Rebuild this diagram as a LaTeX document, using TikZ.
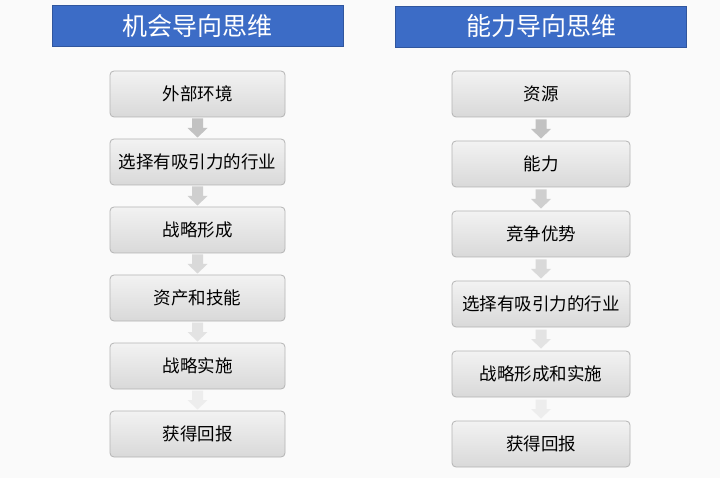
\documentclass[tikz,border=0pt]{standalone}
\usepackage{fontspec}
\setmainfont{Noto Sans CJK SC}
\usetikzlibrary{calc}
\definecolor{titleblue}{HTML}{3C6CC6}
\definecolor{boxline}{HTML}{B4B4B4}
\tikzset{
  titlebox/.style={draw=titleblue!80!black, line width=0.6pt, fill=titleblue, text=white, minimum width=291pt, minimum height=41pt, inner sep=0pt, font=\fontsize{25}{25}\selectfont},
  stepbox/.style={draw=boxline, line width=0.8pt, rounded corners=4pt, top color=black!5, bottom color=black!15, minimum height=46pt, inner sep=0pt, font=\fontsize{17.5}{17.5}\selectfont, text=black},
}
\newcommand{\dnarrow}[2]{% #1 = center coordinate name, #2 = colour
  \fill[#2] ([xshift=-5.5pt,yshift=9.5pt]#1) -- ([xshift=5.5pt,yshift=9.5pt]#1) -- ([xshift=5.5pt,yshift=0pt]#1) -- ([xshift=10pt,yshift=0pt]#1) -- ([yshift=-9.5pt]#1) -- ([xshift=-10pt,yshift=0pt]#1) -- ([xshift=-5.5pt,yshift=0pt]#1) -- cycle;}
\begin{document}
\begin{tikzpicture}[x=1pt,y=-1pt]
\useasboundingbox[fill=white!98!black] (0,0) rectangle (720,478);
% titles
\node[titlebox] (tl) at (197.5,25.5) {机会导向思维};
\node[titlebox] (tr) at (541,26.5) {能力导向思维};
% left column
\foreach \i/\t/\c in {1/外部环境/94,2/选择有吸引力的行业/162,3/战略形成/230,4/资产和技能/298,5/战略实施/366,6/获得回报/434}{
  \node[stepbox, minimum width=175pt] (l\i) at (197.5,\c) {\t};
}
% right column
\foreach \i/\t/\c in {1/资源/94,2/能力/164,3/竞争优势/234,4/选择有吸引力的行业/304,5/战略形成和实施/374,6/获得回报/444}{
  \node[stepbox, minimum width=178pt] (r\i) at (541,\c) {\t};
}
% arrows
\foreach \a/\b/\col in {1/2/black!24,2/3/black!19,3/4/black!15,4/5/black!11,5/6/black!7}{
  \coordinate (la\a) at ($(l\a.south)!0.5!(l\b.north)$);
  \coordinate (ra\a) at ($(r\a.south)!0.5!(r\b.north)$);
  \dnarrow{la\a}{\col}
  \dnarrow{ra\a}{\col}
}
\end{tikzpicture}
\end{document}
